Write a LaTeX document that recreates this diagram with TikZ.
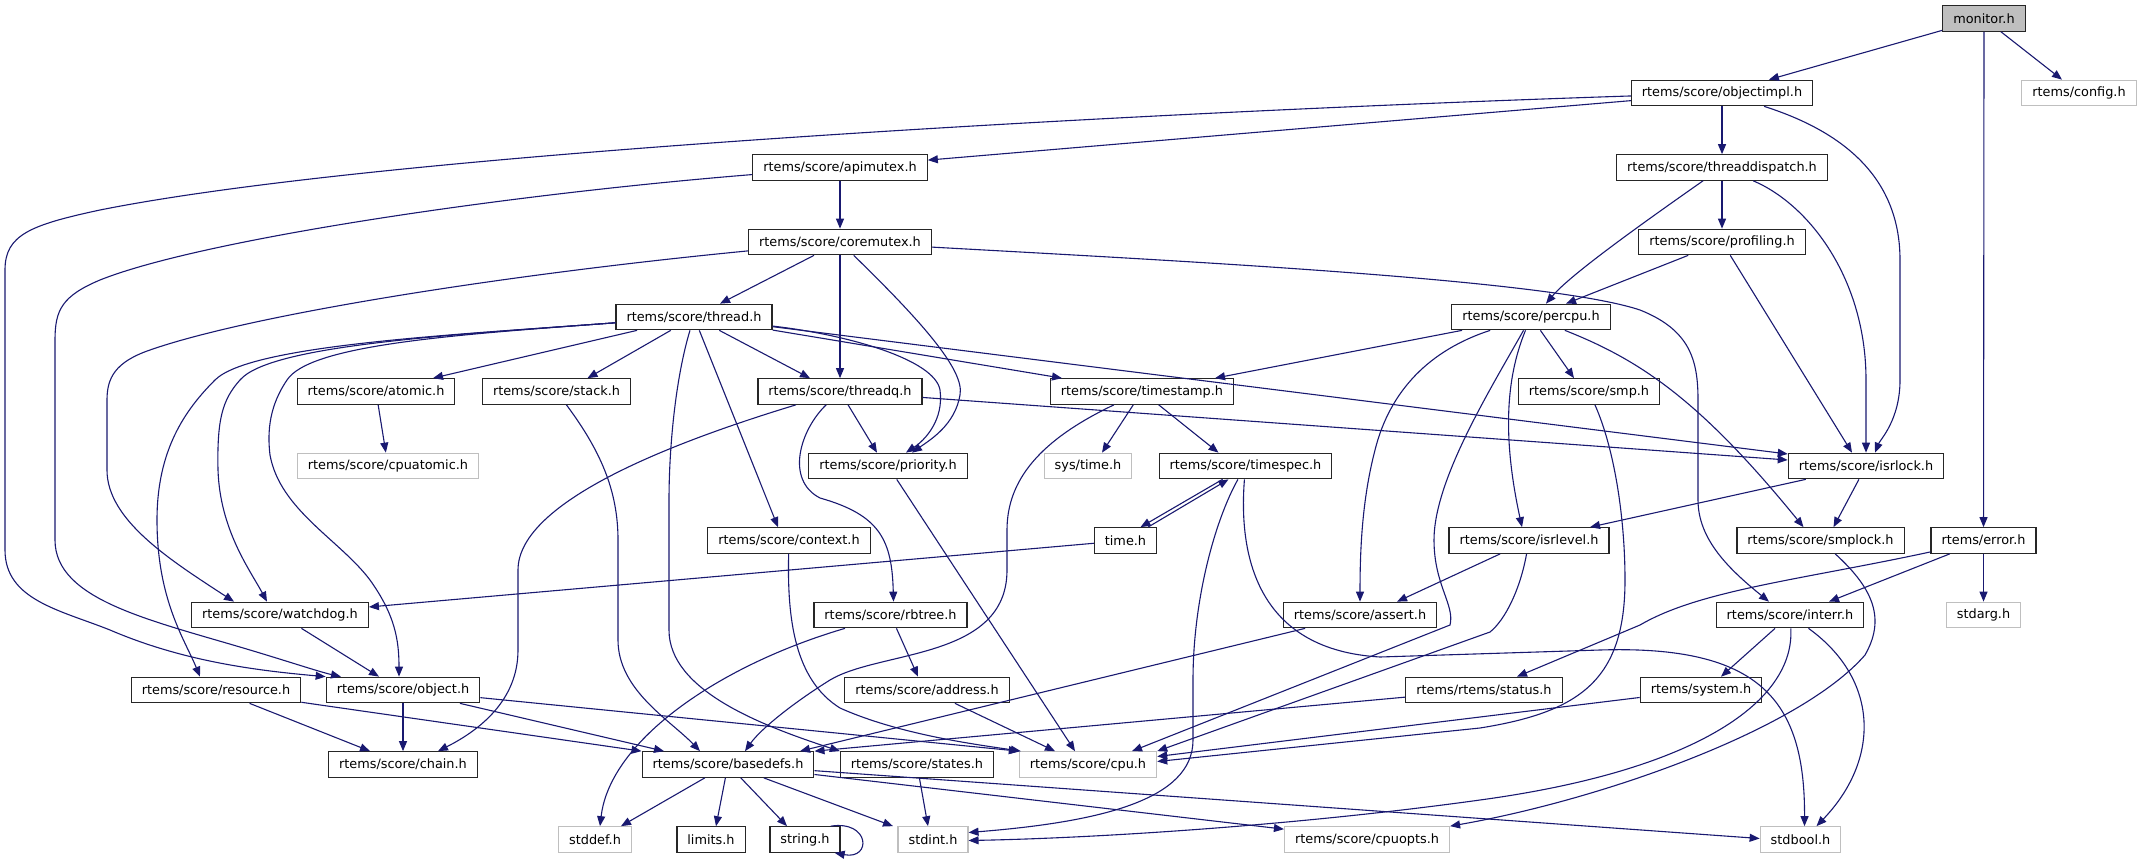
\documentclass[tikz,border=0pt]{standalone}
\usepackage{fontspec}
\setmainfont{DejaVu Sans}
\usepackage{tikz}
\usetikzlibrary{shapes,arrows,arrows.meta}
\definecolor{edgeblue}{HTML}{191970}
\definecolor{grey75}{HTML}{BFBFBF}

\begin{document}
\begin{tikzpicture}[x=1pt,y=-1pt,->,>={Triangle[length=10pt,width=8pt]},line width=1.1pt,color=edgeblue]
\tikzstyle{hdr}=[rectangle,draw=black!85,text=black,fill=white,line width=1.2pt,inner xsep=10.5pt,inner ysep=0pt,minimum height=25.5pt,font=\fontsize{12.85}{15}\selectfont]
\tikzstyle{exthdr}=[hdr,draw=grey75]
\tikzstyle{mainhdr}=[hdr,fill=grey75]
\useasboundingbox (0,0) rectangle (2141,859);

\node[mainhdr] (monitor) at (1984,18.5) {monitor.h};
\node[hdr] (objectimpl) at (1722,93) {rtems/score/objectimpl.h};
\node[exthdr] (config) at (2079,93) {rtems/config.h};
\node[hdr] (apimutex) at (840,167.5) {rtems/score/apimutex.h};
\node[hdr] (threaddispatch) at (1722,167.5) {rtems/score/threaddispatch.h};
\node[hdr] (coremutex) at (840,242) {rtems/score/coremutex.h};
\node[hdr] (profiling) at (1722,242) {rtems/score/profiling.h};
\node[hdr] (thread) at (694,317) {rtems/score/thread.h};
\node[hdr] (percpu) at (1531,317) {rtems/score/percpu.h};
\node[hdr] (atomic) at (376,391.5) {rtems/score/atomic.h};
\node[hdr] (stack) at (556.5,391.5) {rtems/score/stack.h};
\node[hdr] (threadq) at (840,391.5) {rtems/score/threadq.h};
\node[hdr] (timestamp) at (1142,391.5) {rtems/score/timestamp.h};
\node[hdr] (smp) at (1589,391.5) {rtems/score/smp.h};
\node[exthdr] (cpuatomic) at (388,466) {rtems/score/cpuatomic.h};
\node[hdr] (priority) at (888,466) {rtems/score/priority.h};
\node[exthdr] (systime) at (1088,466) {sys/time.h};
\node[hdr] (timespec) at (1245.5,466) {rtems/score/timespec.h};
\node[hdr] (isrlock) at (1866,466) {rtems/score/isrlock.h};
\node[hdr] (context) at (789,540.5) {rtems/score/context.h};
\node[hdr] (time) at (1125.5,540.5) {time.h};
\node[hdr] (isrlevel) at (1529,540.5) {rtems/score/isrlevel.h};
\node[hdr] (smplock) at (1820.5,540.5) {rtems/score/smplock.h};
\node[hdr] (error) at (1983.5,540.5) {rtems/error.h};
\node[hdr] (watchdog) at (280,615) {rtems/score/watchdog.h};
\node[hdr] (rbtree) at (890.5,615) {rtems/score/rbtree.h};
\node[hdr] (assert) at (1360,615) {rtems/score/assert.h};
\node[hdr] (interr) at (1790,615) {rtems/score/interr.h};
\node[exthdr] (stdarg) at (1983.5,615) {stdarg.h};
\node[hdr] (resource) at (216,690) {rtems/score/resource.h};
\node[hdr] (object) at (403,690) {rtems/score/object.h};
\node[hdr] (address) at (927,690) {rtems/score/address.h};
\node[hdr] (status) at (1484,690) {rtems/rtems/status.h};
\node[hdr] (system) at (1701,690) {rtems/system.h};
\node[hdr] (chain) at (403,764.5) {rtems/score/chain.h};
\node[hdr] (basedefs) at (728,764.5) {rtems/score/basedefs.h};
\node[hdr] (states) at (917,764.5) {rtems/score/states.h};
\node[exthdr] (cpu) at (1088,764.5) {rtems/score/cpu.h};
\node[exthdr] (stddef) at (595,839.5) {stddef.h};
\node[hdr] (limits) at (711,839.5) {limits.h};
\node[hdr] (string) at (805,839.5) {string.h};
\node[exthdr] (stdint) at (933,839.5) {stdint.h};
\node[exthdr] (cpuopts) at (1367,839.5) {rtems/score/cpuopts.h};
\node[exthdr] (stdbool) at (1800.5,839.5) {stdbool.h};

\path (monitor) edge (objectimpl)
                edge (config)
                edge (error);
\path (objectimpl) edge (apimutex)
                   edge (threaddispatch);
\path (apimutex) edge (coremutex);
\path (threaddispatch) edge (profiling);
\path (profiling) edge ([xshift=35pt]percpu.north)
                  edge ([xshift=-14pt]isrlock.north);
\path (coremutex) edge ([xshift=26pt]thread.north)
                  edge (threadq);
\path (thread) edge ([xshift=57pt]atomic.north)
               edge ([xshift=31pt]stack.north)
               edge ([xshift=-30pt]threadq.north)
               edge ([xshift=-80pt]timestamp.north)
               edge ([yshift=12pt]isrlock.west)
               edge ([xshift=-11pt]context.north);
\path (threadq) edge ([xshift=-11pt]priority.north)
                edge ([yshift=6pt]isrlock.west);
\path (atomic) edge (cpuatomic);
\path (percpu) edge ([xshift=73pt]timestamp.north)
               edge ([xshift=-15pt]smp.north);
\path (timestamp) edge ([xshift=14pt]systime.north)
                  edge ([xshift=-27pt]timespec.north);
\path (timespec) edge ([xshift=15pt]time.north);
\path (time) edge ([xshift=-17pt]timespec.south)
             edge ([yshift=8pt]watchdog.east);
\path (isrlock) edge ([xshift=61pt]isrlevel.north)
                edge ([xshift=13pt]smplock.north);
\path (isrlevel) edge ([xshift=37pt]assert.north);
\path (error) edge ([xshift=39pt]interr.north)
              edge (stdarg);
\path (interr) edge ([xshift=20pt]system.north);
\path (system) edge ([yshift=8pt]cpu.east);
\path (status) edge (basedefs.north east);
\path (assert) edge ([xshift=72pt]basedefs.north);
\path (priority) edge ([xshift=-13pt]cpu.north);
\path (address) edge ([xshift=-33pt]cpu.north);
\path (rbtree) edge ([xshift=-9pt]address.north);
\path (watchdog) edge ([xshift=-24pt]object.north);
\path (object) edge (chain)
               edge ([xshift=-64pt]basedefs.north)
               edge (cpu.north west);
\path (resource) edge ([xshift=-33pt]chain.north)
                 edge (basedefs.north west);
\path (basedefs) edge ([xshift=26pt]stddef.north)
                 edge ([xshift=5pt]limits.north)
                 edge ([xshift=-18pt]string.north)
                 edge ([xshift=-40pt]stdint.north)
                 edge ([yshift=-3pt]cpuopts.north west)
                 edge ([yshift=1pt]stdbool.west);
\path (states) edge ([xshift=-5pt]stdint.north);

\draw (objectimpl) .. controls (1870,140) and (1900,200) .. (1900,260) -- (1900,380) .. controls (1900,420) and (1880,440) .. ([xshift=9pt]isrlock.north);
\draw (objectimpl) .. controls (1200,110) and (400,150) .. (100,210) .. controls (30,225) and (5,235) .. (5,270) -- (5,550) .. controls (5,600) and (60,610) .. (110,630) .. controls (180,660) and (250,670) .. (object.north west);
\draw (apimutex) .. controls (500,195) and (200,240) .. (100,280) .. controls (62,296) and (55,310) .. (55,340) -- (55,540) .. controls (55,600) and (150,620) .. (250,650) .. controls (290,662) and (320,672) .. ([xshift=-62pt]object.north);
\draw (threaddispatch) .. controls (1640,225) and (1570,275) .. ([xshift=15pt]percpu.north);
\draw (threaddispatch) .. controls (1810,205) and (1866,280) .. (1866,380) -- (isrlock.north);
\draw (coremutex) .. controls (920,320) and (965,370) .. (960,395) .. controls (955,425) and (930,440) .. ([xshift=24pt]priority.north);
\draw (coremutex) .. controls (500,275) and (250,315) .. (150,350) .. controls (115,362) and (107,378) .. (107,400) -- (107,470) .. controls (107,520) and (170,560) .. ([xshift=-46pt]watchdog.north);
\draw (coremutex) .. controls (1200,262) and (1550,280) .. (1640,310) .. controls (1690,330) and (1698,360) .. (1698,400) -- (1698,500) .. controls (1698,540) and (1730,570) .. ([xshift=-21pt]interr.north);
\draw (thread) .. controls (850,335) and (935,360) .. (940,390) .. controls (944,420) and (925,440) .. ([xshift=18pt]priority.north);
\draw (thread) .. controls (675,380) and (669,450) .. (669,500) -- (669,630) .. controls (669,690) and (760,725) .. (states.north west);
\draw (thread) .. controls (450,335) and (250,345) .. (215,380) .. controls (185,410) and (157,450) .. (157,520) .. controls (157,600) and (185,640) .. ([xshift=-16pt]resource.north);
\draw (thread) .. controls (450,335) and (270,345) .. (240,380) .. controls (222,400) and (217,420) .. (218,470) .. controls (220,530) and (250,570) .. ([xshift=-13pt]watchdog.north);
\draw (thread) .. controls (450,335) and (310,345) .. (287,380) .. controls (270,405) and (267,430) .. (270,455) .. controls (280,510) and (340,540) .. (370,580) .. controls (395,615) and (399,640) .. ([xshift=-4pt]object.north);
\draw (stack) .. controls (600,450) and (618,490) .. (618,540) -- (618,640) .. controls (618,690) and (670,720) .. ([xshift=-28pt]basedefs.north);
\draw (threadq) .. controls (680,440) and (518,500) .. (518,570) -- (518,650) .. controls (518,700) and (480,730) .. ([xshift=35pt]chain.north);
\draw (threadq) .. controls (800,430) and (785,480) .. (820,498) .. controls (880,515) and (892,540) .. ([xshift=3pt]rbtree.north);
\draw (timestamp) .. controls (1040,440) and (1007,480) .. (1007,530) -- (1007,570) .. controls (1007,660) and (880,650) .. (830,680) .. controls (790,705) and (760,730) .. ([xshift=17pt]basedefs.north);
\draw (percpu) .. controls (1505,380) and (1503,440) .. ([xshift=-7pt]isrlevel.north);
\draw (percpu) .. controls (1430,350) and (1390,390) .. (1375,450) .. controls (1362,500) and (1360,550) .. (assert.north);
\draw (percpu) .. controls (1490,390) and (1434,480) .. (1434,540) .. controls (1434,585) and (1455,605) .. (1450,625) -- ([xshift=44pt]cpu.north);
\draw (percpu) .. controls (1640,360) and (1700,400) .. ([xshift=-17pt]smplock.north);
\draw (smp) .. controls (1615,450) and (1625,520) .. (1625,580) .. controls (1625,680) and (1580,712) .. (1480,728) -- ([yshift=3pt]cpu.east);
\draw (isrlevel) .. controls (1520,590) and (1505,620) .. (1490,632) -- (cpu.north east);
\draw (smplock) .. controls (1875,590) and (1885,620) .. (1865,655) .. controls (1800,730) and (1600,800) .. (cpuopts.north east);
\draw (error) .. controls (1800,580) and (1700,590) .. (1640,625) -- ([xshift=33pt]status.north);
\draw (interr) .. controls (1795,700) and (1700,770) .. (1480,800) .. controls (1300,825) and (1100,838) .. ([yshift=-1pt]stdint.east);
\draw (interr) .. controls (1880,680) and (1880,760) .. ([xshift=16pt]stdbool.north);
\draw (timespec) .. controls (1215,520) and (1193,600) .. (1193,680) -- (1193,740) .. controls (1193,800) and (1100,822) .. ([yshift=7pt]stdint.east);
\draw (timespec) .. controls (1238,560) and (1260,650) .. (1380,657) -- (1600,650) .. controls (1760,645) and (1805,700) .. ([xshift=4pt]stdbool.north);
\draw (context) .. controls (787,620) and (795,680) .. (840,708) .. controls (900,735) and (980,745) .. ([xshift=2pt]cpu.north west);
\draw (rbtree) .. controls (720,665) and (610,740) .. ([xshift=5pt]stddef.north);
\draw ([xshift=-10pt]string.north east) .. controls (870,820) and (872,860) .. ([xshift=-6pt]string.south east);
\end{tikzpicture}
\end{document}
